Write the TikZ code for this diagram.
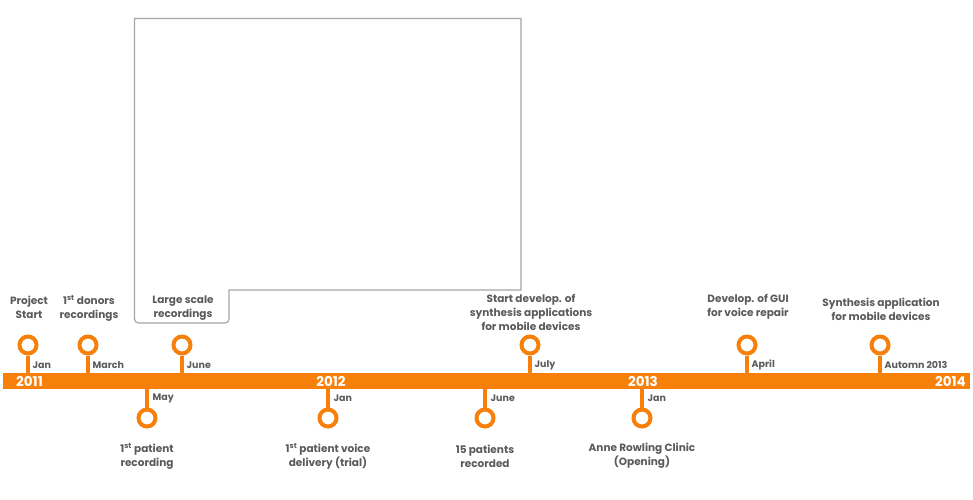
\documentclass[tikz,border=0pt]{standalone}
\usepackage{fontspec}
\setmainfont{Poppins}
\usepackage{xcolor}
\definecolor{tlorange}{RGB}{247,128,10}
\definecolor{tlgray}{RGB}{90,90,90}
\definecolor{framegray}{RGB}{165,165,165}

\begin{document}
\begin{tikzpicture}[x=1pt, y=-1pt,
  pin/.style={circle, draw=tlorange, line width=4pt, fill=white, minimum size=17pt, inner sep=0},
  stem/.style={tlorange, line width=4pt},
  month/.style={anchor=west, text=tlgray, font=\bfseries\fontsize{9.5}{11}\selectfont, inner sep=0},
  event/.style={align=center, text=tlgray, font=\bfseries\fontsize{10.5}{14}\selectfont, inner sep=0},
  year/.style={text=white, font=\bfseries\fontsize{13.5}{14}\selectfont, inner sep=0}]
\useasboundingbox (0,0) rectangle (973,499);
% picture frame
\draw[framegray, line width=1.2pt] (134.5,18.5) -- (521,18.5) -- (521,290) -- (229,290)
  [rounded corners=4pt] -- (229,323) -- (134.5,323) [sharp corners] -- cycle;
% the bar
\node[fill=tlorange, minimum width=967pt, minimum height=16pt, inner sep=0] (bar) at (486.5,381) {};
\node[year] (y2011) at (29.5,381) {2011};
\node[year] (y2012) at (331,381) {2012};
\node[year] (y2013) at (643,381) {2013};
\node[year, anchor=east] (y2014) at (966,381) {2014};
% above the bar
\foreach \x/\m/\n/\ly/\txt in {28/Jan/a/307/{Project\\Start},
    88/March/b/308/{1\textsuperscript{st} donors\\recordings},
    182/June/c/308/{Large scale\\recordings},
    530/July/d/312.5/{Start develop. of\\synthesis applications\\for mobile devices},
    747/April/e/307/{Develop. of GUI\\for voice repair},
    880/Automn 2013/f/309/{Synthesis application\\for mobile devices}} {
 \node[pin] (up\n) at (\x,345) {};
 \draw[stem] (up\n) -- (up\n |- bar.north) coordinate (bu\n);
 \node[month] at ([xshift=4.5pt, yshift=8pt]bu\n) {\m};
 \node[event] (ev\n) at (\x+1,\ly) {\txt};
}
% below the bar
\foreach \x/\m/\n/\txt in {147/May/a/{1\textsuperscript{st} patient\\recording},
    328/Jan/b/{1\textsuperscript{st} patient voice\\delivery (trial)},
    485/June/c/{15 patients\\recorded},
    642/Jan/d/{Anne Rowling Clinic\\(Opening)}} {
 \node[pin] (dn\n) at (\x,418) {};
 \draw[stem] (dn\n) -- (dn\n |- bar.south) coordinate (bd\n);
 \node[month] at ([xshift=5.5pt, yshift=-9pt]bd\n) {\m};
 \node[event] (ew\n) at (\x,456) {\txt};
}
\end{tikzpicture}
\end{document}
